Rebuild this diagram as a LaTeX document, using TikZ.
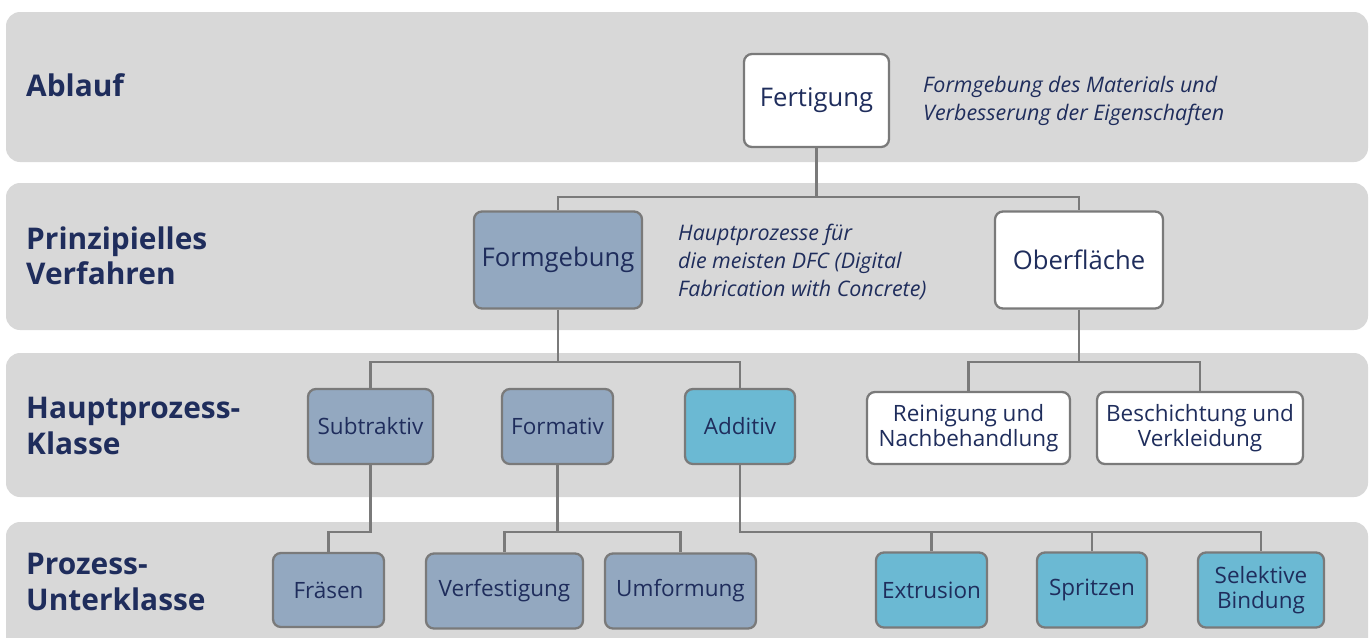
\documentclass[tikz,border=0pt]{standalone}
\usepackage{fontspec}
\setmainfont{Open Sans}
\usepackage{xcolor}
\definecolor{bandgray}{HTML}{D8D8D8}
\definecolor{navy}{HTML}{1F2D5C}
\definecolor{steelblue}{HTML}{93A8C0}
\definecolor{addblue}{HTML}{6BB9D3}
\definecolor{linegray}{HTML}{7A7A7A}

\begin{document}
\begin{tikzpicture}[x=0.02cm, y=-0.02cm,
  every node/.style={text=navy},
  band/.style={fill=bandgray, rounded corners=8pt},
  level/.style={anchor=west, align=left, font=\fontsize{17}{20}\selectfont\bfseries},
  note/.style={anchor=west, align=left, font=\fontsize{12.2}{16}\selectfont\itshape},
  box/.style={draw=linegray, line width=1.3pt, rounded corners=4.5pt, align=center, inner sep=1pt},
  bigbox/.style={box, font=\fontsize{14.6}{17}\selectfont},
  smallbox/.style={box, font=\fontsize{12.8}{14.5}\selectfont},
  link/.style={draw=linegray, line width=1.4pt}]
\path[use as bounding box] (0,0) rectangle (1370,637);
\clip (0,0) rectangle (1370,637);
% bands
\fill[band] (6,12) rectangle (1368,162);
\fill[band] (6,183) rectangle (1368,330);
\fill[band] (6,353) rectangle (1368,497);
\fill[band] (6,522) rectangle (1368,680);
% level labels
\node[level] (lablauf) at (20,85) {Ablauf};
\node[level] (lverfahren) at (20,256) {Prinzipielles\\Verfahren};
\node[level] (lklasse) at (20,426) {Hauptprozess-\\Klasse};
\node[level] (lunterklasse) at (20,582) {Prozess-\\Unterklasse};
% boxes
\node[bigbox, fill=white, minimum width=2.9cm, minimum height=1.86cm] (fertigung) at (816.5,100.5) {Fertigung};
\node[bigbox, fill=steelblue, minimum width=3.36cm, minimum height=1.94cm] (formgebung) at (558,260) {Formgebung};
\node[bigbox, fill=white, minimum width=3.36cm, minimum height=1.94cm] (oberflaeche) at (1079,260) {Oberfläche};
\node[smallbox, fill=steelblue, minimum width=2.5cm, minimum height=1.5cm] (subtraktiv) at (370.5,426.5) {Subtraktiv};
\node[smallbox, fill=steelblue, minimum width=2.22cm, minimum height=1.5cm] (formativ) at (557.5,426.5) {Formativ};
\node[smallbox, fill=addblue, minimum width=2.2cm, minimum height=1.5cm] (additiv) at (740,426.5) {Additiv};
\node[smallbox, fill=white, minimum width=4.06cm, minimum height=1.44cm] (reinigung) at (968.5,428) {Reinigung und\\Nachbehandlung};
\node[smallbox, fill=white, minimum width=4.12cm, minimum height=1.44cm] (beschichtung) at (1200,428) {Beschichtung und\\Verkleidung};
\node[smallbox, fill=steelblue, minimum width=2.22cm, minimum height=1.48cm] (fraesen) at (328.5,590) {Fräsen};
\node[smallbox, fill=steelblue, minimum width=3.14cm, minimum height=1.5cm] (verfestigung) at (504.5,591) {Verfestigung};
\node[smallbox, fill=steelblue, minimum width=3.02cm, minimum height=1.5cm] (umformung) at (680.5,591) {Umformung};
\node[smallbox, fill=addblue, minimum width=2.22cm, minimum height=1.5cm] (extrusion) at (931.5,590) {Extrusion};
\node[smallbox, fill=addblue, minimum width=2.2cm, minimum height=1.5cm] (spritzen) at (1092,590) {Spritzen};
\node[smallbox, fill=addblue, minimum width=2.52cm, minimum height=1.5cm] (selektiv) at (1261,590) {Selektive\\Bindung};
% notes
\node[note] (nfertigung) at (917,101) {Formgebung des Materials und\\Verbesserung der Eigenschaften};
\node[note] (nformgebung) at (672,262) {Hauptprozesse für\\die meisten DFC (Digital\\Fabrication with Concrete)};
% connectors
\draw[link] (fertigung.south) -- (fertigung.south |- 0,197) -| (formgebung.north);
\draw[link] (fertigung.south |- 0,197) -| (oberflaeche.north);
\draw[link] (formgebung.south) -- (formgebung.south |- 0,362) -| (subtraktiv.north);
\draw[link] (formgebung.south |- 0,362) -| (additiv.north);
\draw[link] (oberflaeche.south) -- (oberflaeche.south |- 0,362) -| (reinigung.north);
\draw[link] (oberflaeche.south |- 0,362) -| (beschichtung.north);
\draw[link] (subtraktiv.south) -- (subtraktiv.south |- 0,532) -| (fraesen.north);
\draw[link] (formativ.south) -- (formativ.south |- 0,532) -| (verfestigung.north);
\draw[link] (formativ.south |- 0,532) -| (umformung.north);
\draw[link] (additiv.south) -- (additiv.south |- 0,532) -| (selektiv.north);
\draw[link] (extrusion.north) -- (extrusion.north |- 0,532);
\draw[link] (spritzen.north) -- (spritzen.north |- 0,532);
\end{tikzpicture}
\end{document}
